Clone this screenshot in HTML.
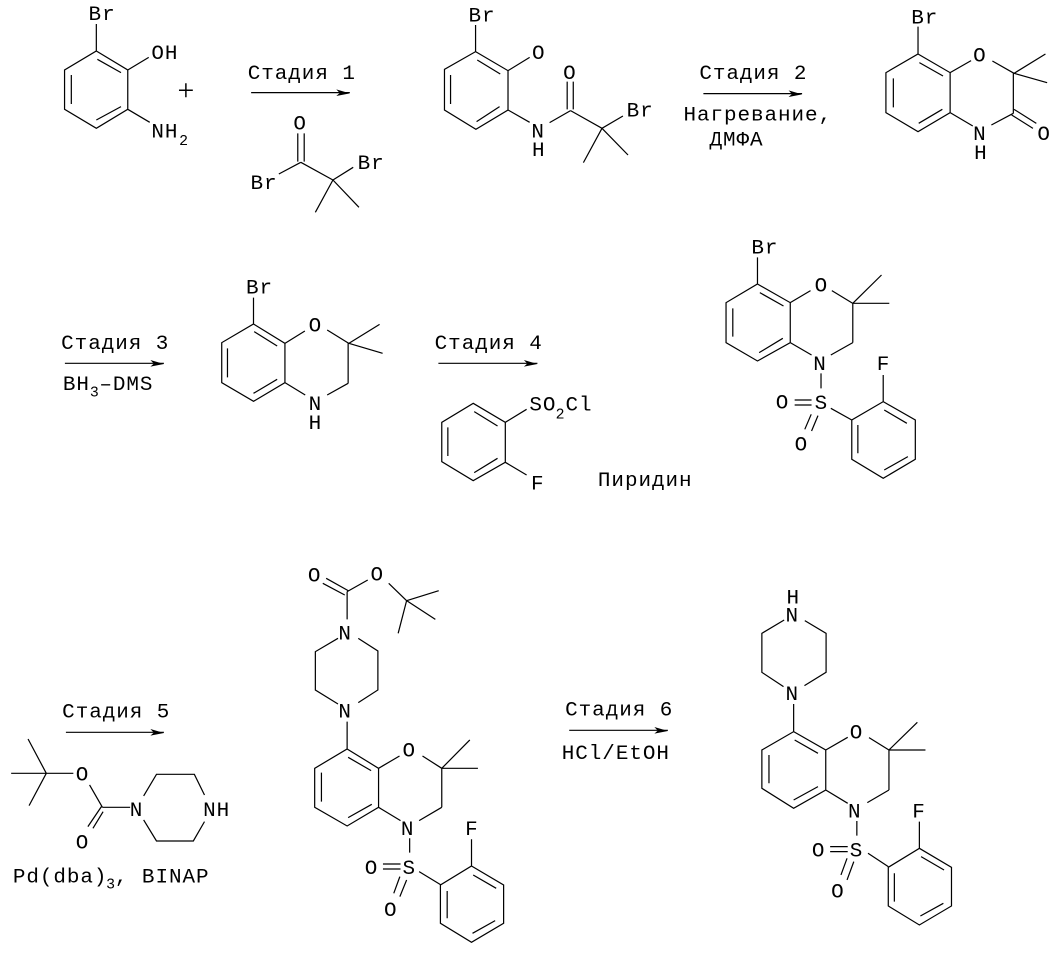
<!DOCTYPE html>
<html><head><meta charset="utf-8"><style>
html,body{margin:0;padding:0;background:#fff}
svg{display:block}
path{fill:none;stroke:#000;stroke-width:3.6}
polygon{fill:#000}
text{font-family:"Liberation Mono",monospace;font-size:62px;letter-spacing:2.8px;fill:#000}
text.s{font-size:44px;letter-spacing:0}
</style></head><body>
<svg width="1059" height="955" viewBox="0 0 1059 955" xmlns="http://www.w3.org/2000/svg">
<rect width="1059" height="955" fill="#fff"/>
<g transform="scale(.338,.3333)">
<path d="M285,72V153M285,153L378,210V328L285,385L191,328V210ZM288,178L358,218M211,225V312M285,360L358,320M378,210L440,172M378,328L443,367"/>
<text x="262" y="60">Br</text><text x="448" y="177">OH</text><text x="448" y="412">NH</text><text class="s" x="530" y="435">2</text>
<text x="550" y="300" text-anchor="middle" style="font-family:'Liberation Serif',serif;font-size:88px;letter-spacing:0">+</text>
<text x="733" y="237">Стадия 1</text>
<path d="M743,278H1035"/><polygon points="1035,280 995,268 1005,279 995,288"/>
<text x="868" y="388">O</text>
<path d="M881,400V485M900,400V485M890,487L985,540M890,487L825,522M985,540L1045,502M985,540L933,637M985,540L1062,622"/>
<text x="741" y="567">Br</text><text x="1058" y="507">Br</text>
<path d="M1407,155L1503,212V330L1408,388L1315,330V208ZM1412,180L1480,222M1333,225V312M1410,365L1478,320M1407,75V155M1503,212L1567,172M1503,330L1567,367"/>
<text x="1386" y="64">Br</text>
</g>
<g transform="translate(530,0) scale(.338,.3333)">
<text x="6" y="177">O</text><text x="4" y="412">N</text><text x="6" y="468">H</text><text x="98" y="237">O</text>
<path d="M110,245V328M128,245V328M120,332L213,385M120,332L58,368M213,385L275,348M213,385L158,488M213,385L290,465"/>
<text x="286" y="350">Br</text>
<text x="501" y="237">Стадия 2</text>
<path d="M513,281H805"/><polygon points="805,283 765,271 775,282 765,291"/>
<text x="454" y="362">Нагревание,</text><text x="531" y="436">ДМФА</text>
<path d="M1148,162L1243,218V338L1148,395L1053,338V218ZM1152,188L1222,228M1075,235V322M1150,370L1220,328M1148,80V162M1243,218L1305,182M1368,183L1432,220M1432,220L1525,162M1432,220L1530,248M1430,220V340M1243,338L1310,378M1430,340L1365,375M1432,328L1498,370M1425,345L1488,385"/>
<text x="1128" y="70">Br</text><text x="1311" y="185">O</text><text x="1311" y="420">N</text><text x="1314" y="477">H</text><text x="1501" y="420">O</text>
</g>
<g transform="translate(0,230) scale(.338,.3333)">
<text x="181" y="357">Стадия 3</text>
<path d="M192,400H485"/><polygon points="485,402 445,390 455,401 445,410"/>
<text x="186" y="480">BH</text><text class="s" x="266" y="500">3</text><text x="294" y="480">–DMS</text>
<path d="M750,282L843,340V458L750,514L656,458V338ZM752,305L820,348M673,355V442M750,490L820,448M750,203V282M843,340L902,303M968,300L1032,340M1032,340L1123,283M1032,340L1132,370M1030,340V460M843,458L903,495M1030,460L968,495"/>
<text x="728" y="190">Br</text><text x="913" y="305">O</text><text x="913" y="540">N</text><text x="913" y="597">H</text>
<text x="1286" y="357">Стадия 4</text>
<path d="M1297,400H1590"/><polygon points="1590,402 1550,390 1560,401 1550,410"/>
<path d="M1400,520L1495,577V697L1400,752L1307,695V577ZM1403,545L1472,588M1325,592V678M1403,728L1472,685M1495,577L1558,538M1495,697L1558,735"/>
</g>
<g transform="translate(530,230) scale(.338,.3333)">
<text x="-2" y="541">SO</text><text class="s" x="76" y="565">2</text><text x="105" y="541">Cl</text><text x="3" y="778">F</text>
<text x="201" y="768">Пиридин</text>
<path d="M673,162L770,218V338L673,393L580,338V218ZM680,188L750,228M600,235V320M678,368L748,325M673,82V162M770,218L830,182M893,182L955,220M955,220L1040,135M955,220H1063M955,220V338M770,338L833,375M955,338L890,375M861,430V475M783,510H833M783,525H833M832,553L813,598M852,557L833,603M890,535L952,570M1045,515L1140,570V688L1045,745L952,688V570ZM1048,540L1115,580M970,585V670M1048,720L1118,680M1045,435V515"/>
<text x="655" y="70">Br</text><text x="842" y="185">O</text><text x="838" y="420">N</text><text x="727" y="535">O</text><text x="842" y="537">S</text><text x="783" y="661">O</text><text x="1026" y="420">F</text>
</g>
<g transform="translate(0,550) scale(.338,.3333)">
<text x="184" y="503">Стадия 5</text>
<path d="M195,547H485"/><polygon points="485,549 445,537 455,548 445,557"/>
<path d="M83,567L137,670M33,670H137M137,670L86,767M137,670H217M265,705L303,772M303,772H385M300,770L260,830M305,785L275,835M425,738L463,673H575L605,735M425,810L463,873H572L605,815"/>
<text x="224" y="692">O</text><text x="224" y="895">O</text><text x="384" y="798">N</text><text x="601" y="798">NH</text>
<text x="38" y="998">Pd(dba)</text><text class="s" x="314" y="1015">3</text><text x="340" y="998">, BINAP</text>
<path d="M965,85L1030,122M955,100L1020,135M1027,125L1088,90M1027,125V208M1150,100L1203,152M1203,152L1298,122M1203,152L1288,208M1203,152L1178,250M1000,265L933,305V420L1000,462M1060,265L1118,303V420L1060,458M1027,515V597M1027,597L1120,655V772L1027,828L931,772V655ZM1030,622L1098,662M951,668V755M1030,803L1100,763M1120,655L1182,618M1250,618L1307,655M1307,655L1390,570M1307,655H1414M1307,655V772M1120,772L1185,812M1307,772L1240,812M1212,865V908M1133,942H1185M1133,957H1185M1183,980L1165,1030M1203,990L1183,1040M1240,965L1305,1005M1395,868V948M1395,948L1490,1005V1120L1395,1177L1303,1120V1005ZM1400,975L1468,1015M1323,1023V1105M1398,1150L1465,1112"/>
<text x="911" y="95">O</text><text x="1096" y="92">O</text><text x="1001" y="268">N</text><text x="1001" y="503">N</text><text x="1191" y="620">O</text><text x="1186" y="855">N</text><text x="1191" y="972">S</text><text x="1079" y="972">O</text><text x="1136" y="1098">O</text><text x="1376" y="855">F</text>
</g>
<g transform="translate(530,550) scale(.338,.3333)">
<text x="104" y="497">Стадия 6</text>
<path d="M116,541H408"/><polygon points="408,543 368,531 378,542 368,551"/>
<text x="94" y="627">HCl/EtOH</text>
<path d="M752,210L686,250V367L750,410M813,212L876,250V367L812,407M780,462V545M780,545L875,600V720L780,775L686,715V600ZM783,570L852,610M707,615V700M780,750L852,710M875,600L940,562M1003,563L1062,600M1062,600L1146,517M1062,600H1170M1062,600V720M875,720L940,760M1062,720L998,758M967,813V857M888,890H940M888,905H940M938,925L920,975M958,935L938,990M1000,910L1060,950M1152,815V895M1152,895L1247,952V1068L1152,1125L1060,1068V952ZM1157,920L1225,960M1078,970V1055M1155,1098L1223,1060"/>
<text x="759" y="160">H</text><text x="756" y="215">N</text><text x="756" y="450">N</text><text x="946" y="565">O</text><text x="941" y="803">N</text><text x="946" y="920">S</text><text x="834" y="920">O</text><text x="891" y="1042">O</text><text x="1131" y="803">F</text>
</g>
</svg>
</body></html>
